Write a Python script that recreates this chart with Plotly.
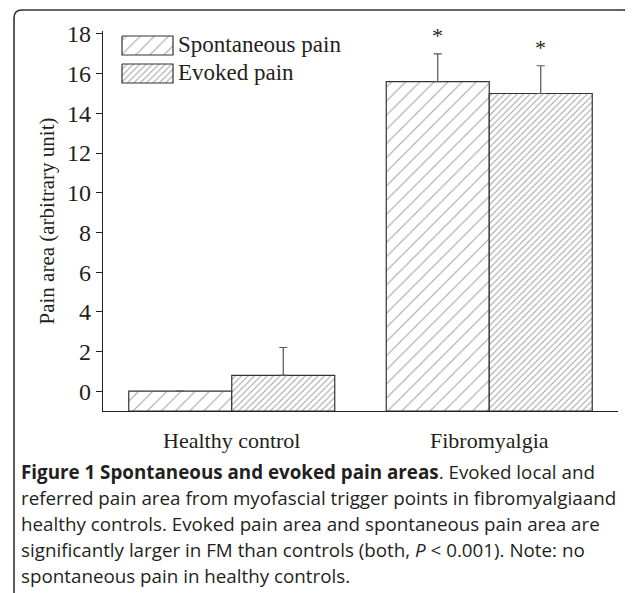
import plotly.graph_objects as go

# ---------------- data ----------------
categories = ["Healthy control", "Fibromyalgia"]
series_names = ["Spontaneous pain", "Evoked pain"]
spontaneous = [0.0, 15.6]
evoked = [0.8, 15.0]
spontaneous_err = [0.0, 1.4]
evoked_err = [1.4, 1.4]
spontaneous_sig = ["", "*"]
evoked_sig = ["", "*"]
y_ticks = [0, 2, 4, 6, 8, 10, 12, 14, 16, 18]
y_title = "Pain area (arbitrary unit)"
caption_lines = [
    "<b>Figure 1 Spontaneous and evoked pain areas</b>. Evoked local and",
    "referred pain area from myofascial trigger points in fibromyalgiaand",
    "healthy controls. Evoked pain area and spontaneous pain area are",
    "significantly larger in FM than controls (both, <i>P</i> &lt; 0.001). Note: no",
    "spontaneous pain in healthy controls.",
]

# ---------------- layout constants (reference pixel coords) ----------------
OFF = 8                      # page body margin in the viewer
REF_W, REF_H = 633, 593
W, H = REF_W - OFF, REF_H - OFF
PLOT_L, PLOT_R, PLOT_T, PLOT_B = 103, 618, 31, 411
ML, MT = PLOT_L - OFF, PLOT_T - OFF
MR = W - (PLOT_R - OFF)
MB = H - (PLOT_B - OFF)
PW, PH = PLOT_R - PLOT_L, PLOT_B - PLOT_T
BASE = -1.0
Y_RANGE = [BASE, 18.15]
SERIF = "Liberation Serif"
SANS = "Open Sans"
INK = "#231f20"


def px_x(p):
    return (p - PLOT_L) / PW


def px_y(p):
    return (PLOT_B - p) / PH


styles = [
    dict(shape="/", size=10, solidity=0.1),
    dict(shape="/", size=4.5, solidity=0.24),
]
values = [spontaneous, evoked]
errs = [spontaneous_err, evoked_err]
sigs = [spontaneous_sig, evoked_sig]

fig = go.Figure()
for name, vals, err, st in zip(series_names, values, errs, styles):
    fig.add_trace(go.Bar(
        name=name,
        x=categories,
        y=[v - BASE for v in vals],
        base=BASE,
        marker=dict(color="white",
                    line=dict(color="#333", width=1.2),
                    pattern=dict(fgcolor="#444", bgcolor="white", **st)),
        error_y=dict(type="data", array=err, arrayminus=[0] * len(err),
                     symmetric=False, color="#555", thickness=1.2, width=4),
        showlegend=False,
    ))

# significance asterisks
annotations = []
for si, (vals, err, sg) in enumerate(zip(values, errs, sigs)):
    for ci, cat in enumerate(categories):
        if sg[ci]:
            annotations.append(dict(
                x=cat, y=vals[ci] + err[ci], xref="x", yref="y",
                text=sg[ci], showarrow=False, yanchor="bottom",
                xshift=(-1 if si == 0 else 1) * PW / len(categories) * 0.8 / 4,
                yshift=4, font=dict(family=SERIF, size=22, color=INK)))

# custom legend (hatched patches) on an overlay pixel axis
LEG_X0, LEG_X1 = 122, 173
LEG_ROWS = [(36, 55), (64, 83)]
for name, st, (y0, y1) in zip(series_names, styles, LEG_ROWS):
    fig.add_trace(go.Scatter(
        x=[LEG_X0, LEG_X1, LEG_X1, LEG_X0, LEG_X0],
        y=[y0, y0, y1, y1, y0],
        xaxis="x2", yaxis="y2", mode="lines", fill="toself",
        line=dict(color="#333", width=1.2),
        fillcolor="white",
        fillpattern=dict(fgcolor="#444", bgcolor="white", **st),
        showlegend=False, hoverinfo="skip"))
    annotations.append(dict(
        x=px_x(LEG_X1 + 3), y=px_y((y0 + y1) / 2 - 1), xref="paper", yref="paper",
        text=name, showarrow=False, xanchor="left", yanchor="middle",
        font=dict(family=SERIF, size=23, color=INK)))

# caption
CAP_X = 19
CAP_Y0, CAP_DY = 472, 26
for i, line in enumerate(caption_lines):
    annotations.append(dict(
        x=px_x(CAP_X), y=px_y(CAP_Y0 + i * CAP_DY), xref="paper", yref="paper",
        text=line, showarrow=False, xanchor="left", yanchor="middle",
        align="left", font=dict(family=SANS, size=18.8, color=INK)))

# frame (rounded box edges)
fx0, fy0, fx1, r = 14, 10, 631, 8
frame_path = (
    f"M {px_x(fx0)},{px_y(REF_H)} L {px_x(fx0)},{px_y(fy0 + r)} "
    f"Q {px_x(fx0)},{px_y(fy0)} {px_x(fx0 + r)},{px_y(fy0)} "
    f"L {px_x(fx1 - r)},{px_y(fy0)} "
    f"Q {px_x(fx1 - 2)},{px_y(fy0)} {px_x(fx1)},{px_y(fy0 + 4)}"
)

fig.update_layout(
    width=W, height=H,
    margin=dict(l=ML, r=MR, t=MT, b=MB, autoexpand=False),
    paper_bgcolor="white", plot_bgcolor="white",
    barmode="group", bargap=0.2, bargroupgap=0,
    annotations=annotations,
    shapes=[dict(type="path", path=frame_path, xref="paper", yref="paper",
                 line=dict(color="#333", width=1.6))],
    xaxis=dict(showline=True, linecolor="#222", linewidth=1.3, ticks="",
               showgrid=False, zeroline=False, ticklabelstandoff=9,
               range=[-0.5, 1.5],
               tickfont=dict(family=SERIF, size=22, color=INK)),
    yaxis=dict(showline=True, linecolor="#222", linewidth=1.3,
               ticks="outside", ticklen=6, tickcolor="#222", tickwidth=1.3,
               tickvals=y_ticks, range=Y_RANGE, showgrid=False,
               zeroline=False,
               tickfont=dict(family=SERIF, size=24, color=INK),
               title=dict(text=y_title, standoff=6,
                          font=dict(family=SERIF, size=21, color=INK))),
    xaxis2=dict(overlaying="x", range=[PLOT_L, PLOT_R], visible=False,
                fixedrange=True),
    yaxis2=dict(overlaying="y", range=[PLOT_B, PLOT_T], visible=False,
                fixedrange=True),
    showlegend=False,
)

fig.write_html("out.html")
